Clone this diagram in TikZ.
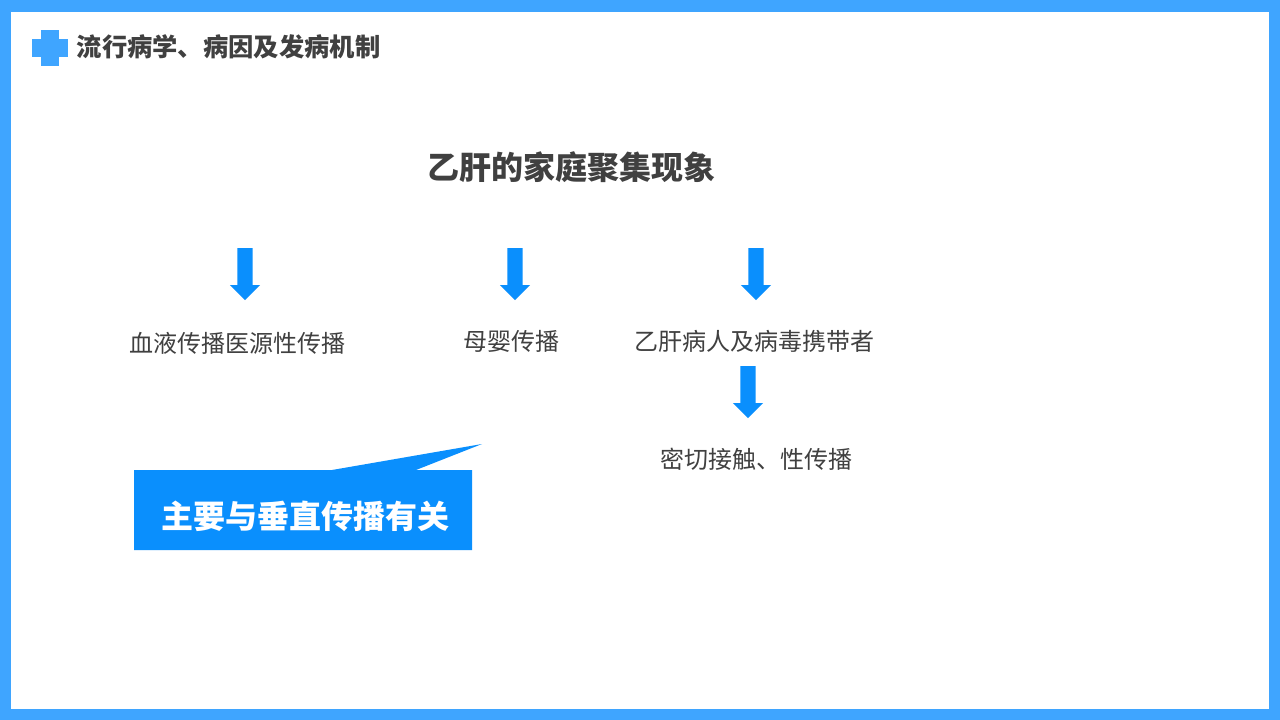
\documentclass[tikz,border=0pt]{standalone}
\usepackage{fontspec}
\setmainfont{Noto Sans CJK SC}
\usetikzlibrary{shapes.arrows}
\definecolor{framecolor}{HTML}{3FA5FF}
\definecolor{maincolor}{HTML}{0A8FFD}
\definecolor{textcolor}{HTML}{404040}
\begin{document}
\begin{tikzpicture}[x=1pt,y=-1pt]
    \tikzstyle{label} = [text=textcolor, inner sep=0pt, font=\fontsize{24}{28}\selectfont]
    \tikzstyle{heading} = [text=textcolor, inner sep=0pt, font=\fontsize{32}{38}\selectfont\bfseries]
    \tikzstyle{downarrow} = [single arrow, shape border rotate=270, anchor=tail, fill=maincolor, inner sep=7.5pt, minimum height=52pt, minimum width=30pt, single arrow head extend=7.5pt, single arrow tip angle=90, single arrow head indent=0pt]

    \useasboundingbox (0,0) rectangle (1280,720);
    \fill [framecolor] (0,0) rectangle (1280,720);
    \fill [white] (11,12) rectangle (1269,709);

    % header
    \fill [framecolor] (41,30) rectangle (59,66);
    \fill [framecolor] (32,39) rectangle (68,57);
    \node [anchor=west, text=textcolor, inner sep=0pt, font=\fontsize{25.3}{30}\selectfont\bfseries] (header) at (76.5,47) {流行病学、病因及发病机制};

    \node [heading] (title) at (571,167) {乙肝的家庭聚集现象};

    \node [downarrow] (arrowblood) at (245,248) {};
    \node [downarrow] (arrowmother) at (515,248) {};
    \node [downarrow] (arrowcarrier) at (756,248) {};
    \node [downarrow] (arrowcontact) at (748,366) {};

    \node [label] (blood) at (237,343) {血液传播医源性传播};
    \node [label] (mother) at (511,341) {母婴传播};
    \node [label] (carrier) at (754,341) {乙肝病人及病毒携带者};
    \node [label] (contact) at (756,459) {密切接触、性传播};

    % callout
    \fill [maincolor] (134,470) -- (332,470) -- (482,444) -- (416,470) -- (472,470) -- (472,550) -- (134,550) -- cycle;
    \node [text=white, inner sep=0pt, font=\fontsize{32}{38}\selectfont\bfseries] (vertical) at (305,516) {主要与垂直传播有关};

\end{tikzpicture}
\end{document}
